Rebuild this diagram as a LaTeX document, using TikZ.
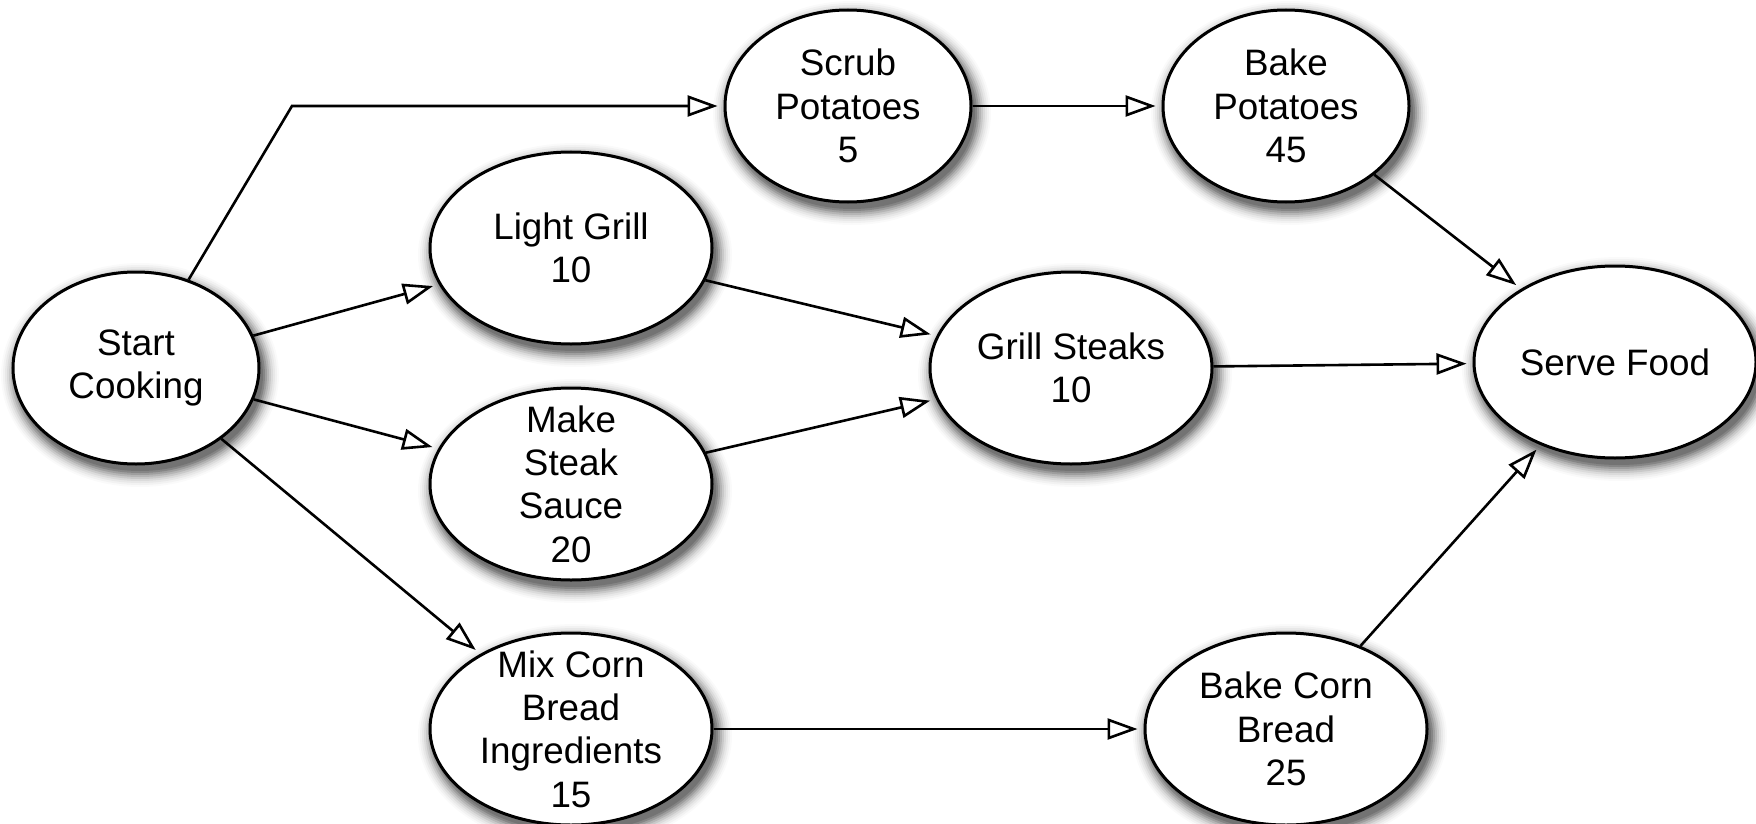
\documentclass[tikz,border=0pt]{standalone}
\usepackage{fontspec}
\setmainfont{Liberation Sans}
\usetikzlibrary{arrows.meta,shapes.geometric}
% soft drop shadow of an activity: centre x, centre y, x radius in pt;
% nested ellipses, lightest and widest first
\newcommand\castshadow[3]{%
  \fill[black!2]  (#1+4,#2+7) ellipse [x radius={#3pt+8pt}, y radius=56pt];
  \fill[black!5]  (#1+4,#2+7) ellipse [x radius={#3pt+7pt}, y radius=55pt];
  \fill[black!9]  (#1+4,#2+7) ellipse [x radius={#3pt+6pt}, y radius=54pt];
  \fill[black!14] (#1+4,#2+7) ellipse [x radius={#3pt+5pt}, y radius=53pt];
  \fill[black!21] (#1+4,#2+7) ellipse [x radius={#3pt+4pt}, y radius=52pt];
  \fill[black!29] (#1+4,#2+7) ellipse [x radius={#3pt+3pt}, y radius=51pt];
  \fill[black!38] (#1+4,#2+7) ellipse [x radius={#3pt+2pt}, y radius=50pt];
  \fill[black!48] (#1+4,#2+7) ellipse [x radius={#3pt+1pt}, y radius=49pt];
  \fill[black!55] (#1+4,#2+7) ellipse [x radius={#3pt}, y radius=48pt];
}
\begin{document}
\begin{tikzpicture}[x=0.5pt,y=-0.5pt,
  task/.style={ellipse, draw=black, line width=1.5pt, fill=white,
    minimum height=96pt, inner sep=0pt},
  small/.style={task, minimum width=123pt},
  wide/.style={task, minimum width=141pt},
  tasktext/.style={align=center, inner sep=0pt,
    font=\fontsize{18.4}{21.7}\selectfont},
  flow/.style={line width=1.3pt,
    -{Triangle[open, length=15pt, width=10.5pt]}, shorten >=3pt}
]
\useasboundingbox (0,0) rectangle (1756,824);

% shadows under the activities
\castshadow{136}{368}{61.5}
\castshadow{848}{106}{61.5}
\castshadow{1286}{106}{61.5}
\castshadow{571}{248}{70.5}
\castshadow{571}{484}{70.5}
\castshadow{571}{729}{70.5}
\castshadow{1071}{368}{70.5}
\castshadow{1615}{362}{70.5}
\castshadow{1286}{729}{70.5}

% activity ellipses
\node[small] (start) at (136,368) {};
\node[small] (scrub) at (848,106) {};
\node[small] (bakepot) at (1286,106) {};
\node[wide] (light) at (571,248) {};
\node[wide] (sauce) at (571,484) {};
\node[wide] (mix) at (571,729) {};
\node[wide] (grill) at (1071,368) {};
\node[wide] (serve) at (1615,362) {};
\node[wide] (bakecorn) at (1286,729) {};

% activity names and durations
\node[tasktext] (start-t) at (start) {Start\\Cooking};
\node[tasktext] (scrub-t) at (scrub) {Scrub\\Potatoes\\5};
\node[tasktext] (bakepot-t) at (bakepot) {Bake\\Potatoes\\45};
\node[tasktext] (light-t) at (light) {Light Grill\\10};
\node[tasktext] (sauce-t) at (sauce) {Make\\Steak\\Sauce\\20};
\node[tasktext] (mix-t) at (mix) {Mix Corn\\Bread\\Ingredients\\15};
\node[tasktext] (grill-t) at (grill) {Grill Steaks\\10};
\node[tasktext] (serve-t) at (serve) {Serve Food};
\node[tasktext] (bakecorn-t) at (bakecorn) {Bake Corn\\Bread\\25};

% precedence arrows
\coordinate (bend) at (292,106);
\draw[flow] (start) -- (bend) -- (scrub);
\draw[flow] (start) -- (light);
\draw[flow] (start) -- (sauce);
\draw[flow] (start) -- (mix);
\draw[flow] (scrub) -- (bakepot);
\draw[flow] (bakepot) -- (serve);
\draw[flow] (light) -- (grill);
\draw[flow] (sauce) -- (grill);
\draw[flow] (grill) -- (serve);
\draw[flow] (mix) -- (bakecorn);
\draw[flow] (bakecorn) -- (serve);
\end{tikzpicture}
\end{document}
